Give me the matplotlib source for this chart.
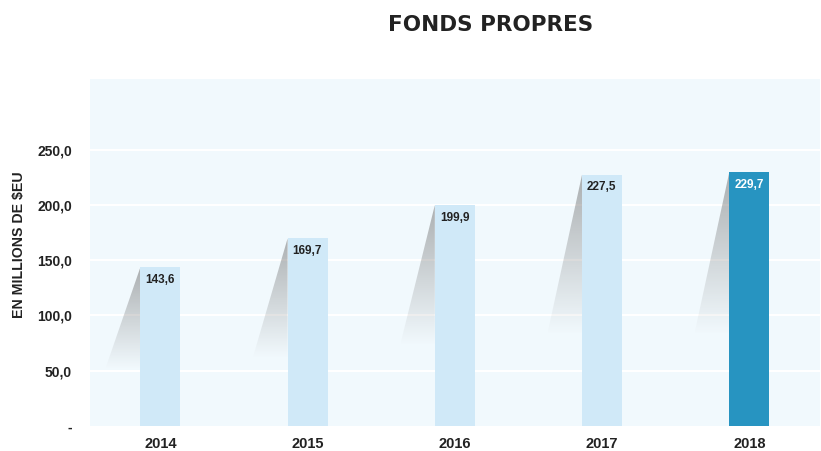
import numpy as np
import matplotlib
matplotlib.use("Agg")
import matplotlib.pyplot as plt
from matplotlib.patches import Polygon

plt.rcParams['font.family'] = ['Liberation Sans', 'DejaVu Sans']

# data
years = ['2014', '2015', '2016', '2017', '2018']
values = [143.6, 169.7, 199.9, 227.5, 229.7]
labels = ['143,6', '169,7', '199,9', '227,5', '229,7']
bar_colors = ['#d0e9f8', '#d0e9f8', '#d0e9f8', '#d0e9f8', '#2794c1']
label_colors = ['#222222', '#222222', '#222222', '#222222', '#ffffff']
yticks = [0, 50, 100, 150, 200, 250]
ytick_labels = ['-', '50,0', '100,0', '150,0', '200,0', '250,0']

fig = plt.figure(figsize=(8.21, 4.51), dpi=100)
ax = fig.add_axes([90 / 821, 25 / 451, 730 / 821, 347 / 451])
ax.set_facecolor('#f1f9fd')

x = np.arange(len(years))
width = 0.272
ax.set_xlim(-0.478, 4.48)
ax.set_ylim(0, 314)

# white gridlines
for t in yticks[1:]:
    ax.axhline(t, color='white', lw=1.5, zorder=1)

# gradient shadows on the left side of each bar
grad = np.zeros((100, 2, 4))
grad[..., :3] = 0.45
grad[..., 3] = np.linspace(0.55, 0.0, 100)[:, None]
dx = 0.238
for xi, h in zip(x, values):
    xl = xi - width / 2
    ybot = h * 0.36
    poly = Polygon([(xl, h), (xl - dx, ybot), (xl, ybot)], closed=True,
                   facecolor='none', edgecolor='none')
    ax.add_patch(poly)
    im = ax.imshow(grad, extent=[xl - dx, xl, ybot, h], origin='upper',
                   aspect='auto', zorder=2, interpolation='bilinear')
    im.set_clip_path(poly)

ax.bar(x, values, width=width, color=bar_colors, zorder=3)

for xi, h, lab, c in zip(x, values, labels, label_colors):
    ax.text(xi - width / 2 + 0.034, h - 6, lab, ha='left', va='top',
            fontsize=8.5, fontweight='bold', color=c, zorder=4)

ax.set_xticks(x)
ax.set_xticklabels(years, fontsize=10.5, fontweight='bold', color='#222222')
ax.set_yticks(yticks)
ax.set_yticklabels(ytick_labels, fontsize=10, fontweight='bold', color='#222222')
ax.tick_params(axis='both', length=0)
ax.tick_params(axis='y', pad=13)
ax.tick_params(axis='x', pad=8)
for s in ax.spines.values():
    s.set_visible(False)

fig.text(19 / 821, 1 - 245 / 451, 'EN MILLIONS DE $EU', rotation=90,
         ha='center', va='center', fontsize=10.2, fontweight='bold', color='#222222')
fig.text(491 / 821, 1 - 25 / 451, 'FONDS PROPRES', ha='center', va='center',
         fontsize=15.5, fontweight='bold', color='#222222', family='DejaVu Sans')

fig.savefig('out.png', dpi=100)
